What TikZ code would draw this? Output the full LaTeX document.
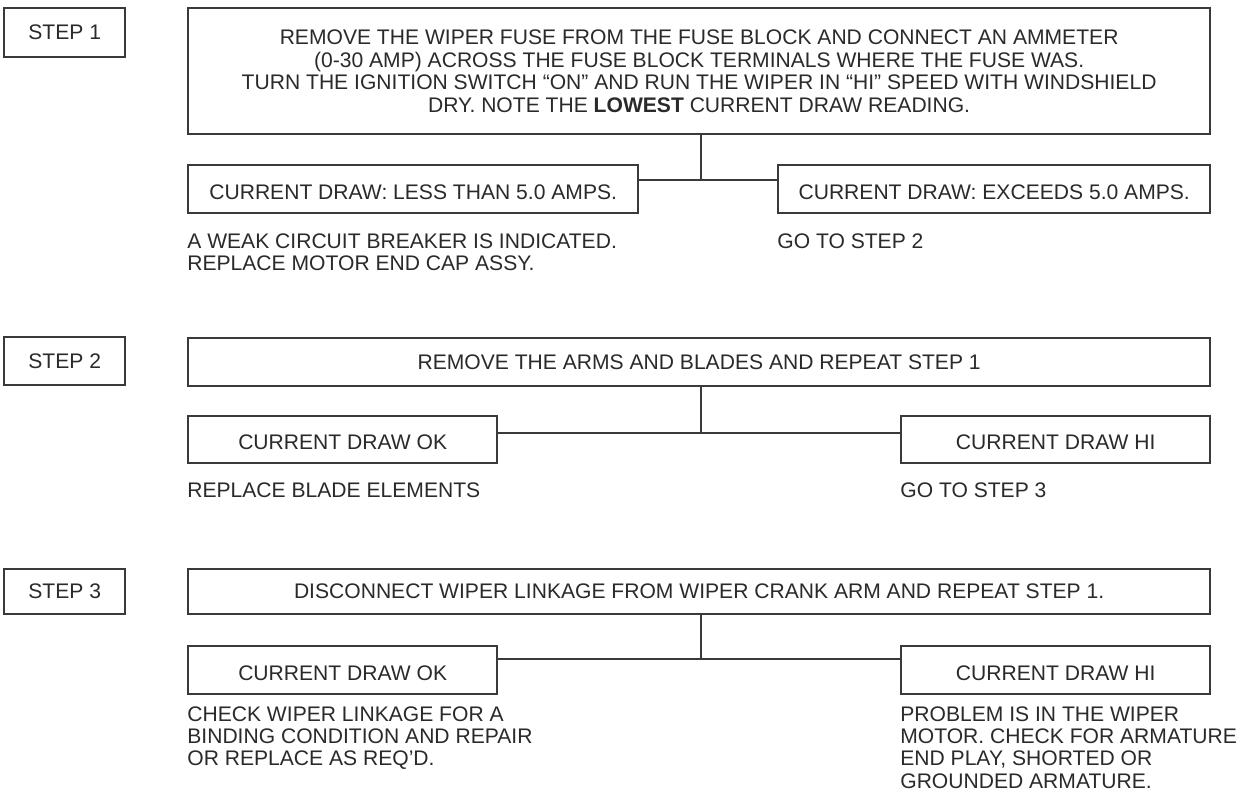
\documentclass[tikz,border=0pt]{standalone}
\usepackage{fontspec}
\setmainfont{Liberation Sans}
\usepackage{xcolor}
\definecolor{inkLine}{HTML}{3A3A3A}
\definecolor{inkText}{HTML}{2A2A2A}
\usetikzlibrary{positioning}

\begin{document}
\begin{tikzpicture}[x=0.02cm, y=-0.02cm,
  box/.style={draw=inkLine, line width=1.4pt, inner sep=0pt, anchor=north west, align=center, text=inkText, font=\fontsize{12}{13}\selectfont},
  subbox/.style={box, text height=0.4cm, text depth=0pt},
  note/.style={anchor=north west, inner sep=0pt, align=left, text=inkText, font=\fontsize{12}{12.7}\selectfont},
  link/.style={draw=inkLine, line width=1.4pt}]
  \filldraw[fill=white, draw=none] (0,0) rectangle (1243,798);
  % step 1
  \node[box, minimum width=2.42cm, minimum height=0.98cm] (S1) at (3,7) {STEP 1};
  \node[box, minimum width=20.44cm, minimum height=2.52cm] (T1) at (187,7) {REMOVE THE WIPER FUSE FROM THE FUSE BLOCK AND CONNECT AN AMMETER\\(0-30 AMP) ACROSS THE FUSE BLOCK TERMINALS WHERE THE FUSE WAS.\\TURN THE IGNITION SWITCH “ON” AND RUN THE WIPER IN “HI” SPEED WITH WINDSHIELD\\DRY. NOTE THE \textbf{LOWEST} CURRENT DRAW READING.};
  \node[subbox, minimum width=9.0cm, minimum height=0.96cm] (L1) at (187,164) {CURRENT DRAW: LESS THAN 5.0 AMPS.};
  \node[subbox, minimum width=8.64cm, minimum height=0.96cm] (H1) at (777,164) {CURRENT DRAW: EXCEEDS 5.0 AMPS.};
  \coordinate (J1) at (701,180);
  \draw[link] (T1.south -| J1) -- (J1);
  \draw[link] (L1.east |- J1) -- (H1.west |- J1);
  \node[note] (N1) at (187,233) {A WEAK CIRCUIT BREAKER IS INDICATED.\\REPLACE MOTOR END CAP ASSY.};
  \node[note] (G1) at (777,233) {GO TO STEP 2};
  % step 2
  \node[box, minimum width=2.42cm, minimum height=0.96cm] (S2) at (3,336) {STEP 2};
  \node[box, minimum width=20.44cm, minimum height=0.96cm] (T2) at (187,337) {REMOVE THE ARMS AND BLADES AND REPEAT STEP 1};
  \node[subbox, minimum width=6.18cm, minimum height=0.94cm] (L2) at (187,415) {CURRENT DRAW OK};
  \node[subbox, minimum width=6.18cm, minimum height=0.94cm] (H2) at (900,415) {CURRENT DRAW HI};
  \coordinate (J2) at (701,433);
  \draw[link] (T2.south -| J2) -- (J2);
  \draw[link] (L2.east |- J2) -- (H2.west |- J2);
  \node[note] (N2) at (187,482) {REPLACE BLADE ELEMENTS};
  \node[note] (G2) at (900,482) {GO TO STEP 3};
  % step 3
  \node[box, minimum width=2.42cm, minimum height=0.9cm] (S3) at (3,568) {STEP 3};
  \node[box, minimum width=20.44cm, minimum height=0.9cm] (T3) at (187,568) {DISCONNECT WIPER LINKAGE FROM WIPER CRANK ARM AND REPEAT STEP 1.};
  \node[subbox, minimum width=6.18cm, minimum height=0.96cm] (L3) at (187,645) {CURRENT DRAW OK};
  \node[subbox, minimum width=6.18cm, minimum height=0.96cm] (H3) at (900,645) {CURRENT DRAW HI};
  \coordinate (J3) at (701,659);
  \draw[link] (T3.south -| J3) -- (J3);
  \draw[link] (L3.east |- J3) -- (H3.west |- J3);
  \node[note] (N3) at (187,706) {CHECK WIPER LINKAGE FOR A\\BINDING CONDITION AND REPAIR\\OR REPLACE AS REQ'D.};
  \node[note] (G3) at (900,706) {PROBLEM IS IN THE WIPER\\MOTOR. CHECK FOR ARMATURE\\END PLAY, SHORTED OR\\GROUNDED ARMATURE.};
\end{tikzpicture}
\end{document}
